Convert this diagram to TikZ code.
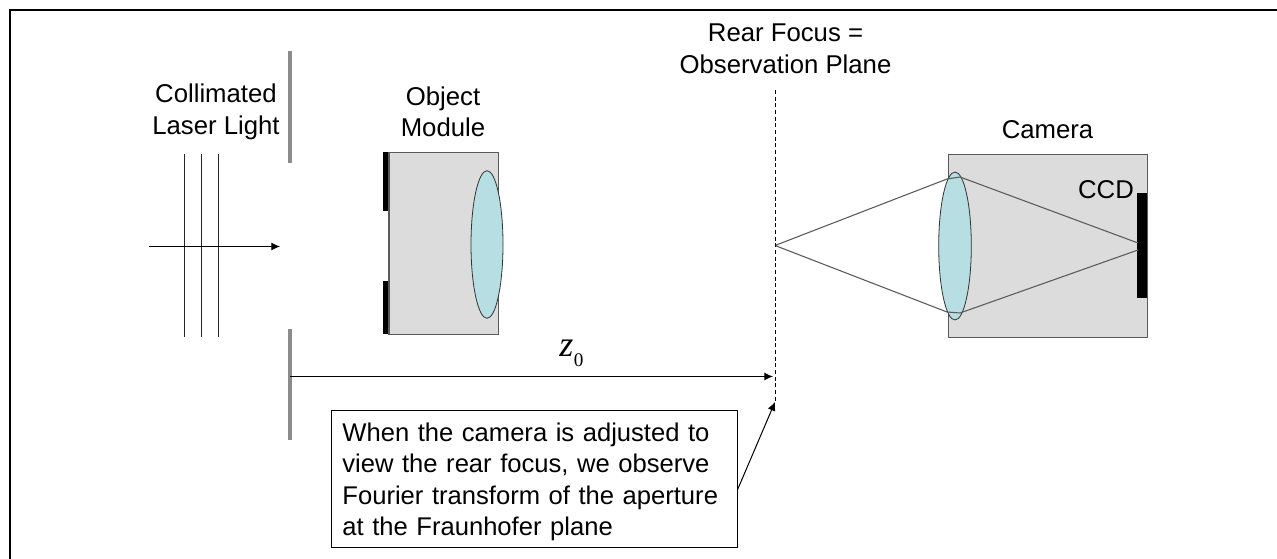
\documentclass[tikz,border=0pt]{standalone}
\usepackage{fontspec}
\setmainfont{Liberation Sans}
\usetikzlibrary{arrows.meta}
\definecolor{boxgray}{HTML}{DCDCDC}
\definecolor{lensblue}{HTML}{B7DEE2}
\definecolor{linegray}{HTML}{5A5A5A}
\definecolor{bargray}{HTML}{8C8C8C}
\tikzset{
 lbl/.style={inner sep=0pt,align=center,font=\fontsize{19.3}{23.6}\selectfont},
 housing/.style={fill=boxgray,draw=linegray,line width=1pt},
 lens/.style={fill=lensblue,draw=black!80,line width=0.6pt},
 blackbar/.style={fill=black,draw=none},
 graybar/.style={fill=bargray,draw=none},
 thin ray/.style={draw=black!85,line width=0.65pt},
 gray ray/.style={draw=linegray,line width=0.8pt},
 arr/.style={draw=black,line width=0.75pt,-{Latex[length=6.5pt,width=6pt]}},
}
\begin{document}
\begin{tikzpicture}[x=0.75pt,y=-0.75pt]
\useasboundingbox (0,0) rectangle (1277,559);
\fill[white] (0,0) rectangle (1277,559);
\draw[black,line width=2pt] (10,575) -- (10,10) -- (1290,10);
% stops
\path[graybar] (288,51) rectangle (292,163);
\path[graybar] (288,329) rectangle (292,440);
% collimated light
\coordinate (b1) at (184.5,154); \coordinate (b1e) at (184.5,337);
\coordinate (b2) at (201.5,154); \coordinate (b2e) at (201.5,337);
\coordinate (b3) at (218.5,154); \coordinate (b3e) at (218.5,337);
\draw[thin ray] (b1) -- (b1e); \draw[thin ray] (b2) -- (b2e); \draw[thin ray] (b3) -- (b3e);
\coordinate (ls) at (149,246.5); \coordinate (le) at (280,246.5);
\draw[arr] (ls) -- (le);
% object module
\node[housing,minimum width=82.2pt,minimum height=136.5pt,inner sep=0pt,anchor=north west] (obj) at (388.3,151.7) {};
\path[blackbar] (383.3,152) rectangle (388,211.5);
\path[blackbar] (383.3,281) rectangle (388,334);
\path[lens] (487,244.5) ellipse [x radius=16,y radius=73.8];
% camera
\node[housing,minimum width=149pt,minimum height=137pt,inner sep=0pt,anchor=north west] (cam) at (948,154) {};
\path[lens] (955,246) ellipse [x radius=16.3,y radius=74];
\path[blackbar] (1137.3,193.3) rectangle (1147,298);
% rays
\coordinate (f) at (775,245.5);
\coordinate (u) at (947,179); \coordinate (d) at (947,312);
\coordinate (u2) at (960,177); \coordinate (d2) at (960,313);
\coordinate (cu) at (1138,243); \coordinate (cd) at (1138,250);
\draw[gray ray] (f) -- (u) -- (u2) -- (cu) (f) -- (d) -- (d2) -- (cd);
% observation plane
\coordinate (p1) at (775.5,90); \coordinate (p2) at (775.5,402);
\draw[black,line width=0.7pt,dash pattern=on 3pt off 2pt] (p1) -- (p2);
% z0
\coordinate (zs) at (290,376.5); \coordinate (ze) at (773,376.5);
\draw[arr] (zs) -- (ze);
\node[inner sep=0pt,anchor=base west,font=\fontsize{27}{27}\selectfont] (z) at (559,356) {\fontspec{Liberation Serif}\itshape z\hspace{0.5pt}\raisebox{-8.25pt}{\fontsize{14.4}{14.4}\selectfont\upshape 0}};
% note
\node[draw=black,line width=0.8pt,fill=white,lbl,align=left,minimum width=302.6pt,minimum height=102.5pt,inner xsep=8pt,anchor=north west,text width=288pt,font=\fontsize{19.2}{23.4}\selectfont] (note) at (331.2,410) {\rule{0pt}{18.5pt}When the camera is adjusted to\\view the rear focus, we observe\\Fourier transform of the aperture\\at the Fraunhofer plane};
\coordinate (nt) at (775,402);
\draw[arr] (note.east) ++(0,-8pt) coordinate (ns) (ns) -- (nt);
% labels
\node[lbl] (l1) at (216,112) {Collimated\\Laser Light};
\node[lbl] (l2) at (443,112) {Object\\Module};
\node[lbl] (l3) at (1047.5,129.5) {Camera};
\node[lbl] (l4) at (1106,189.5) {CCD};
\node[lbl] (l5) at (785.5,49) {Rear Focus =\\Observation Plane};
\end{tikzpicture}
\end{document}
